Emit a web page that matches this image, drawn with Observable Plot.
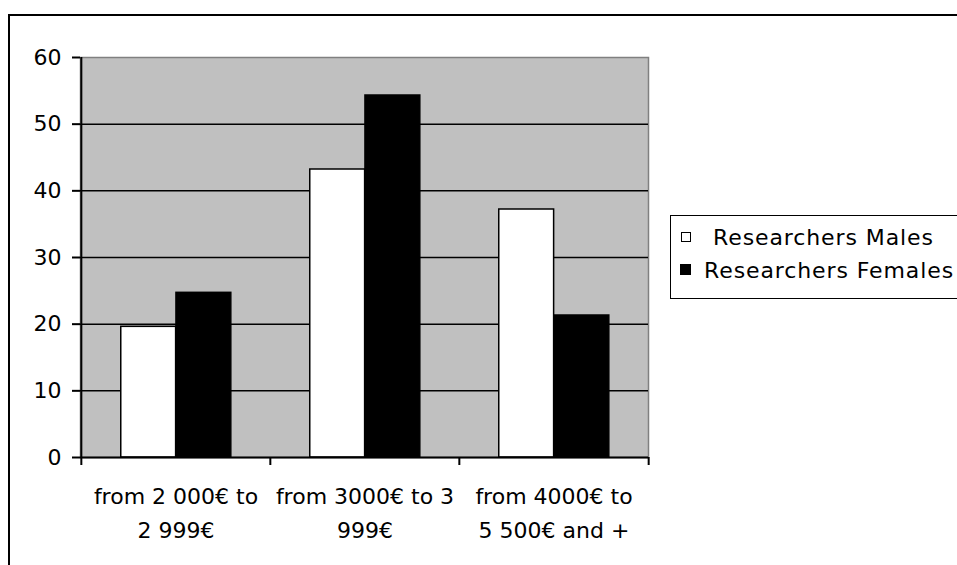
<!DOCTYPE html>
<html>
<head>
<meta charset="utf-8">
<script src="https://cdn.jsdelivr.net/npm/d3@7"></script>
<script src="https://cdn.jsdelivr.net/npm/@observablehq/plot@0.6"></script>
<style>
  html, body { margin: 0; padding: 0; background: #fff; overflow: hidden; }
  #wrap { position: relative; width: 957px; height: 565px; overflow: hidden; font-family: "DejaVu Sans", sans-serif; }
  #outer { position: absolute; left: 8px; top: 14px; width: 1100px; height: 700px;
           border-left: 2px solid #000; border-top: 2px solid #000; }
  #chart { position: absolute; left: 0; top: 0; }
  #legend { position: absolute; left: 670px; top: 215px; width: 320px; height: 82px;
            border: 1.5px solid #000; background: #fff; font-size: 22px; color: #000; }
  .item { position: absolute; white-space: nowrap; line-height: 1; letter-spacing: 0.9px; }
  .sw { position: absolute; border: 1px solid #000; }
</style>
</head>
<body>
<div id="wrap">
  <div id="outer"></div>
  <div id="chart"></div>
  <div id="legend"></div>
</div>
<script>
// ---- data ----
const categories = ["2000-2999", "3000-3999", "4000-5500+"];
const tickLabels = ["from 2 000€ to\n2 999€", "from 3000€ to 3\n999€", "from 4000€ to\n5 500€ and +"];
const seriesNames = ["Researchers Males", "Researchers Females"];
const males = [19.6, 43.2, 37.2];
const females = [24.7, 54.3, 21.3];
const yTicks = [0, 10, 20, 30, 40, 50, 60];

const rows = [];
categories.forEach((c, i) => {
  rows.push({category: c, series: seriesNames[0], value: males[i]});
  rows.push({category: c, series: seriesNames[1], value: females[i]});
});

const W = 957, H = 565, mL = 80, mR = 309, mT = 57, mB = 108;
const bw = (W - mL - mR) / categories.length;
const gap = bw * 0.21;
const barW = bw * 0.2915;
const labelOf = new Map(categories.map((c, i) => [c, tickLabels[i]]));

const chart = Plot.plot({
  width: W, height: H,
  marginLeft: mL, marginRight: mR, marginTop: mT, marginBottom: mB,
  style: {fontFamily: "DejaVu Sans, sans-serif", fontSize: "22px", color: "#000", background: "transparent"},
  x: {type: "band", domain: categories, padding: 0, axis: null, label: null},
  y: {domain: [0, 60], axis: null, label: null},
  marks: [
    Plot.frame({fill: "#c0c0c0", stroke: "#808080", strokeWidth: 1.5}),
    Plot.gridY(yTicks.filter(t => t > 0 && t < 60), {stroke: "#000", strokeOpacity: 1, strokeWidth: 1.5}),
    Plot.barY(rows.filter(d => d.series === seriesNames[0]), {
      x: "category", y: "value", fill: "#fff", stroke: "#000", strokeWidth: 1.5,
      insetLeft: gap, insetRight: bw - gap - barW
    }),
    Plot.barY(rows.filter(d => d.series === seriesNames[1]), {
      x: "category", y: "value", fill: "#000", stroke: "#000", strokeWidth: 1.5,
      insetLeft: gap + barW, insetRight: bw - gap - 2 * barW
    }),
    Plot.ruleY([0], {stroke: "#000", strokeWidth: 2}),
    Plot.ruleX([categories[0]], {dx: -bw / 2, stroke: "#000", strokeWidth: 2}),
    Plot.axisY(yTicks, {tickSize: 8, tickPadding: 11, strokeWidth: 2, stroke: "#000", fontSize: 22}),
    Plot.axisX(categories, {tickSize: 8, dx: -bw / 2, tickFormat: () => "", strokeWidth: 2, stroke: "#000"}),
    Plot.axisX([categories[categories.length - 1]], {tickSize: 8, dx: bw / 2, tickFormat: () => "", strokeWidth: 2, stroke: "#000"}),
    Plot.axisX(categories, {tickSize: 0, tickPadding: 22, tickFormat: d => labelOf.get(d), lineHeight: 1.55, fontSize: 22, fill: "#000"})
  ]
});
document.getElementById("chart").appendChild(chart);

// ---- legend ----
const legend = document.getElementById("legend");
const legendStyles = [
  {fill: "#fff", size: 8, sx: 10, sy: 16, tx: 42, ty: 16},
  {fill: "#000", size: 9, sx: 9, sy: 48, tx: 33, ty: 49}
];
seriesNames.forEach((name, i) => {
  const s = legendStyles[i];
  const sw = document.createElement("div");
  sw.className = "sw";
  sw.style.left = s.sx + "px";
  sw.style.top = s.sy + "px";
  sw.style.width = s.size + "px";
  sw.style.height = s.size + "px";
  sw.style.background = s.fill;
  legend.appendChild(sw);
  const t = document.createElement("div");
  t.className = "item";
  t.style.left = s.tx + "px";
  t.style.top = (s.ty - 5) + "px";
  t.textContent = name;
  legend.appendChild(t);
});
</script>
</body>
</html>
